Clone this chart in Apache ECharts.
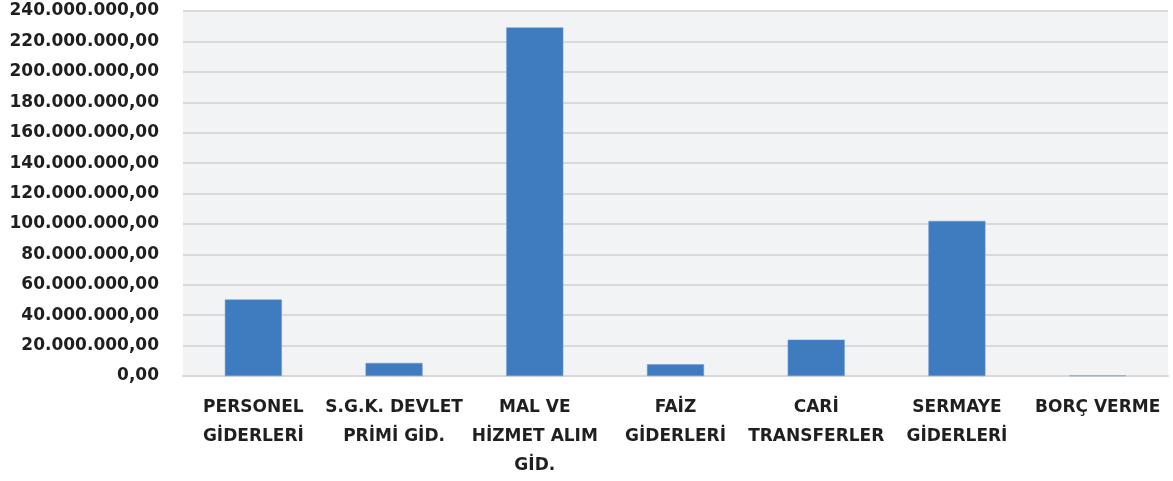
<!DOCTYPE html>
<html lang="tr">
<head>
    <meta charset="UTF-8">
    <title>Giderler</title>
    <script src="https://cdn.jsdelivr.net/npm/echarts@6/dist/echarts.min.js"></script>
    <style>
        html, body { margin: 0; padding: 0; background: #fff; }
    </style>
</head>
<body>
<div id="main" style="width: 1173px;height: 481px;"></div>
<script>
    // kategoriler ve tutarlar (TL)
    var categories = [
        'PERSONEL\nGİDERLERİ',
        'S.G.K. DEVLET\nPRİMİ GİD.',
        'MAL VE\nHİZMET ALIM\nGİD.',
        'FAİZ\nGİDERLERİ',
        'CARİ\nTRANSFERLER',
        'SERMAYE\nGİDERLERİ',
        'BORÇ VERME'
    ];
    var values = [50300000, 8600000, 229200000, 7700000, 23900000, 102000000, 300000];
    var yMin = 0, yMax = 240000000, yStep = 20000000;

    // 240000000 -> "240.000.000,00"
    function trFormat(v) {
        var s = Math.round(v).toString();
        s = s.replace(/\B(?=(\d{3})+(?!\d))/g, '.');
        return s + ',00';
    }

    var myChart = echarts.init(document.getElementById('main'));

    var option = {
        animation: false,
        textStyle: { fontFamily: 'DejaVu Sans' },
        grid: {
            left: 183,
            right: 5,
            top: 11,
            bottom: 105,
            show: true,
            backgroundColor: '#f2f3f5',
            borderWidth: 0
        },
        xAxis: {
            type: 'category',
            data: categories,
            axisLine: { show: true, lineStyle: { color: '#d9d9d9', width: 2 } },
            axisTick: { show: false },
            axisLabel: {
                interval: 0,
                margin: 17,
                color: '#1f1f1f',
                fontWeight: 'bold',
                fontSize: 17,
                lineHeight: 29,
                fontFamily: 'DejaVu Sans'
            }
        },
        yAxis: {
            type: 'value',
            min: yMin,
            max: yMax,
            interval: yStep,
            axisLine: { show: false },
            axisTick: { show: false },
            splitLine: { lineStyle: { color: '#d9d9d9', width: 2 } },
            axisLabel: {
                margin: 24,
                color: '#1f1f1f',
                fontWeight: 'bold',
                fontSize: 17,
                fontFamily: 'DejaVu Sans',
                formatter: function (value) { return trFormat(value); }
            }
        },
        series: [{
            type: 'bar',
            data: values,
            barWidth: 57,
            itemStyle: {
                color: '#3f7bbf',
                borderColor: '#6e9bd0',
                borderWidth: 0.5
            }
        }]
    };

    myChart.setOption(option, true);
</script>
</body>
</html>
